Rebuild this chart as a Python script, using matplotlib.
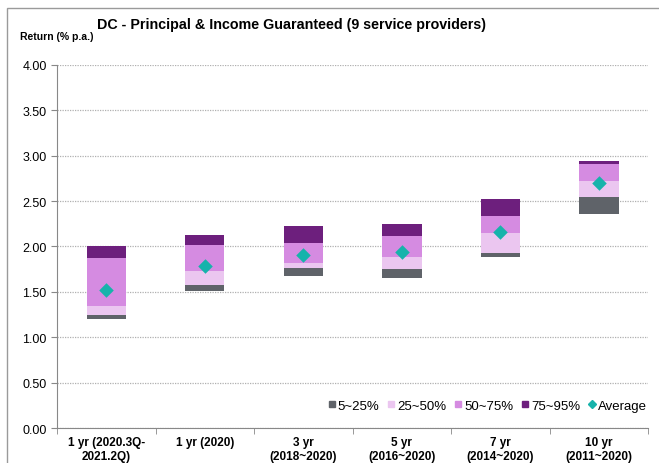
import matplotlib.pyplot as plt
import numpy as np
from matplotlib.patches import Rectangle
from matplotlib.lines import Line2D

plt.rcParams["font.family"] = ["Liberation Sans", "DejaVu Sans"]

# Return distribution per period (% p.a.)
periods = ["1 yr (2020.3Q-\n2021.2Q)", "1 yr (2020)", "3 yr\n(2018~2020)",
           "5 yr\n(2016~2020)", "7 yr\n(2014~2020)", "10 yr\n(2011~2020)"]
p5 = [1.20, 1.51, 1.68, 1.65, 1.88, 2.36]
p25 = [1.25, 1.57, 1.76, 1.75, 1.925, 2.54]
p50 = [1.34, 1.73, 1.815, 1.88, 2.15, 2.725]
p75 = [1.87, 2.02, 2.035, 2.11, 2.34, 2.91]
p95 = [2.01, 2.13, 2.22, 2.25, 2.52, 2.94]
average = [1.52, 1.78, 1.91, 1.94, 2.16, 2.70]

band_labels = ["5~25%", "25~50%", "50~75%", "75~95%"]
band_colors = ["#5f6369", "#ebc6f0", "#d58be1", "#6d1f7d"]
avg_color = "#17b3ab"

fig = plt.figure(figsize=(6.59, 4.64), dpi=100)
ax = fig.add_axes([0.0865, 0.0754, 0.897, 0.7826])

x = np.arange(len(periods))
edges = [p5, p25, p50, p75, p95]
for i in range(4):
    lo = np.array(edges[i])
    hi = np.array(edges[i + 1])
    ax.bar(x, hi - lo, bottom=lo, width=0.4, color=band_colors[i],
           label=band_labels[i], zorder=3)
ax.scatter(x, average, marker="D", s=55, color=avg_color, zorder=4,
           label="Average", linewidths=0)

ax.set_xlim(-0.5, len(periods) - 0.5)
ax.set_ylim(0, 4.0)
ax.set_yticks(np.arange(0, 4.01, 0.5))
ax.set_yticklabels([f"{v:.2f}" for v in np.arange(0, 4.01, 0.5)], fontsize=9)
ax.grid(axis="y", linestyle=(0, (1, 1)), color="#b0b0b0", linewidth=0.9, zorder=0)
ax.set_axisbelow(True)

ax.set_xticks(x)
ax.set_xticklabels(periods, fontsize=8.5, fontweight="bold")
ax.tick_params(axis="x", which="major", length=0, pad=6)
ax.set_xticks(np.arange(-0.5, len(periods)), minor=True)
ax.tick_params(axis="x", which="minor", length=4, color="#888888")
ax.tick_params(axis="y", length=4, color="#888888")

for side in ["top", "right"]:
    ax.spines[side].set_visible(False)
ax.spines["left"].set_color("#888888")
ax.spines["bottom"].set_color("#888888")

handles = [Line2D([], [], marker="s", linestyle="", markersize=5,
                  color=c) for c in band_colors]
handles.append(Line2D([], [], marker="D", linestyle="", markersize=4,
                      color=avg_color))
ax.legend(handles, band_labels + ["Average"], loc="lower right", ncol=5,
          frameon=False, fontsize=9.5, handletextpad=0.05, columnspacing=0.5,
          handlelength=0.8, bbox_to_anchor=(1.018, 0.012))

fig.text(0.443, 0.946, "DC - Principal & Income Guaranteed (9 service providers)",
         ha="center", va="center", fontsize=10.3, fontweight="bold")
fig.text(0.031, 0.921, "Return (% p.a.)", ha="left", va="center",
         fontsize=7.5, fontweight="bold")

# outer frame
fig.patches.append(Rectangle((7 / 659, -0.05), 1.0, 1.05 - 9 / 464,
                             transform=fig.transFigure, fill=False,
                             edgecolor="#9a9a9a", linewidth=1.0))

fig.savefig("out.png", dpi=100)
